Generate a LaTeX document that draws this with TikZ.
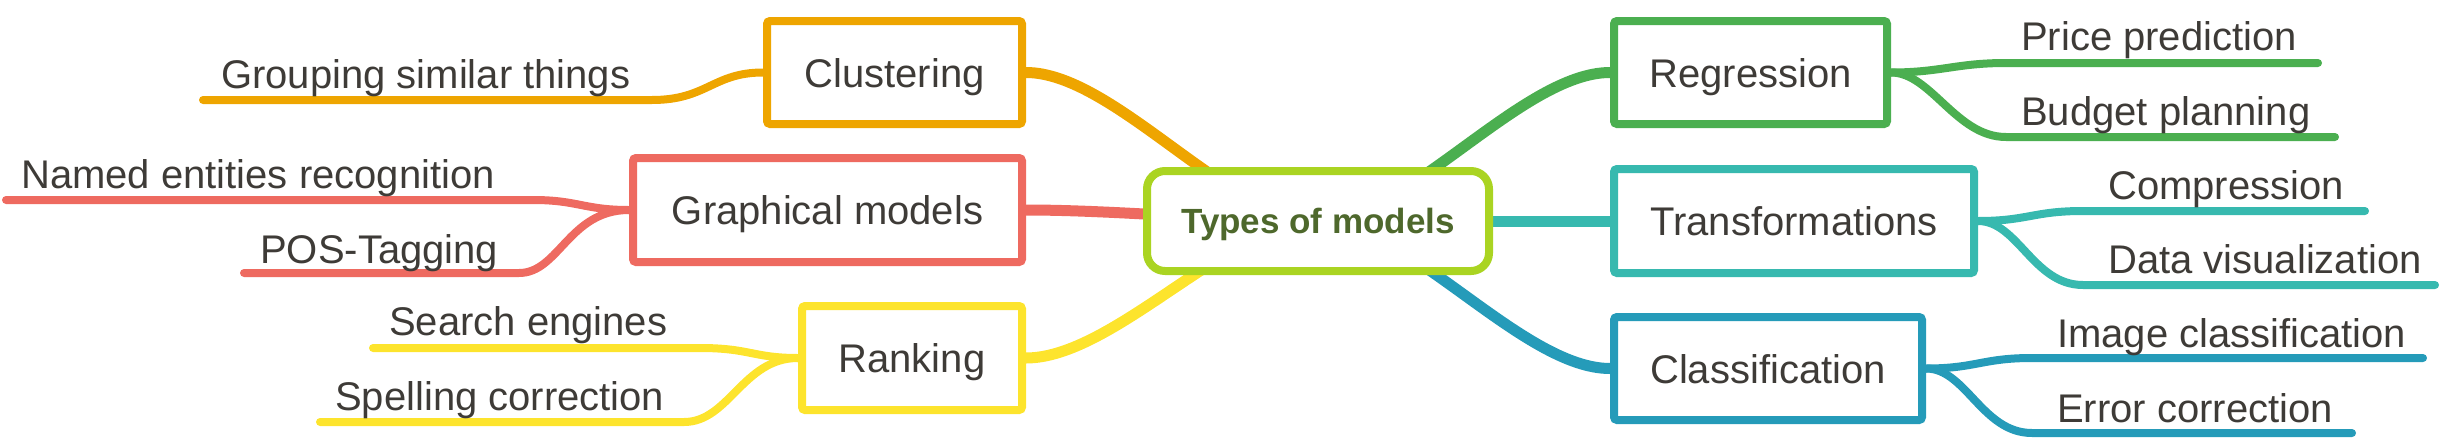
\documentclass[tikz,border=0pt]{standalone}
\usepackage{fontspec}
\setmainfont{Liberation Sans}
\usetikzlibrary{backgrounds}
\definecolor{corange}{RGB}{238,165,0}
\definecolor{cred}{RGB}{238,106,96}
\definecolor{cyellow}{RGB}{253,228,45}
\definecolor{cgreen}{RGB}{75,175,80}
\definecolor{cteal}{RGB}{55,185,175}
\definecolor{cblue}{RGB}{37,155,185}
\definecolor{clime}{RGB}{170,212,34}
\definecolor{colive}{RGB}{78,104,44}
\definecolor{txt}{RGB}{62,59,55}
\begin{document}
\begin{tikzpicture}[x=1pt,y=-1pt,
  box/.style={draw, line width=8pt, fill=white, rounded corners=3pt, inner sep=0pt,
    font=\fontsize{40}{48}\selectfont, text=txt, text height=29pt, text depth=0pt},
  centerbox/.style={draw=clime, line width=8pt, fill=white, rounded corners=18pt, inner sep=0pt,
    font=\fontsize{35}{42}\selectfont\bfseries, text=colive, text height=25pt, text depth=0pt},
  leaf/.style={font=\fontsize{40}{48}\selectfont, text=txt, inner sep=0pt, anchor=base west},
  link/.style={line width=11pt},
  sub/.style={line width=8pt, line cap=round},
]
\useasboundingbox (0,0) rectangle (2440,442);

% central node
\node[centerbox, minimum width=342pt, minimum height=100pt] (cen) at (1318,221) {Types of models};

% branch boxes
\node[box, draw=corange, minimum width=255pt, minimum height=103pt] (clu) at (894.5,72.5) {Clustering};
\node[box, draw=cred, minimum width=389pt, minimum height=104pt] (gra) at (827.5,210) {Graphical models};
\node[box, draw=cyellow, minimum width=220pt, minimum height=104pt] (rnk) at (912,358) {Ranking};
\node[box, draw=cgreen, minimum width=273pt, minimum height=103pt] (reg) at (1750.5,72.5) {Regression};
\node[box, draw=cteal, minimum width=360pt, minimum height=104pt] (tra) at (1794,221) {Transformations};
\node[box, draw=cblue, minimum width=308pt, minimum height=103pt] (cla) at (1768,368.5) {Classification};

% leaf labels
\node[leaf] (lgr) at (221,88) {Grouping similar things};
\node[leaf] (lne) at (21,188) {Named entities recognition};
\node[leaf] (lpo) at (260,263) {POS-Tagging};
\node[leaf] (lse) at (389,335) {Search engines};
\node[leaf] (lsp) at (335,410) {Spelling correction};
\node[leaf] (lpr) at (2021,50) {Price prediction};
\node[leaf] (lbu) at (2021,125) {Budget planning};
\node[leaf] (lco) at (2108,199) {Compression};
\node[leaf] (lda) at (2108,273) {Data visualization};
\node[leaf] (lim) at (2057,347) {Image classification};
\node[leaf] (ler) at (2057,422) {Error correction};

% line end coordinates
\coordinate (g0) at (203,100);   \coordinate (g1) at (652,100);
\coordinate (n0) at (6,200);     \coordinate (n1) at (533,200);
\coordinate (p0) at (244,273);   \coordinate (p1) at (519,273);
\coordinate (s0) at (373,348);   \coordinate (s1) at (700,348);
\coordinate (q0) at (320,422);   \coordinate (q1) at (684,422);
\coordinate (r0) at (2318,63);   \coordinate (r1) at (2006,63);
\coordinate (b0) at (2335,137);  \coordinate (b1) at (2006,137);
\coordinate (c0) at (2365,211);  \coordinate (c1) at (2083,211);
\coordinate (d0) at (2435,285);  \coordinate (d1) at (2083,285);
\coordinate (i0) at (2423,358);  \coordinate (i1) at (2032,358);
\coordinate (e0) at (2352,433);  \coordinate (e1) at (2032,433);

\begin{pgfonlayer}{background}
  % main links (hidden part runs under the central box)
  \draw[link, corange] (clu.east) .. controls +(88,0) and +(-88,0) .. (cen.center);
  \draw[link, cyellow] (rnk.east) .. controls +(88,0) and +(-88,0) .. (cen.center);
  \draw[link, cred] (gra.east) .. controls +(90,0) and +(-90,0) .. (cen.center);
  \draw[link, cgreen] (reg.west) .. controls +(-88,0) and +(88,0) .. (cen.center);
  \draw[link, cblue] (cla.west) .. controls +(-88,0) and +(88,0) .. (cen.center);
  \draw[link, cteal] (cen.center) -- (tra.west);
  % sub links
  \draw[sub, corange] (clu.west) .. controls +(-50,0) and +(55,0) .. (g1) -- (g0);
  \draw[sub, cred] (gra.west) .. controls +(-45,0) and +(45,0) .. (n1) -- (n0);
  \draw[sub, cred] (gra.west) .. controls +(-60,0) and +(40,0) .. (p1) -- (p0);
  \draw[sub, cyellow] (rnk.west) .. controls +(-45,0) and +(50,0) .. (s1) -- (s0);
  \draw[sub, cyellow] (rnk.west) .. controls +(-55,0) and +(45,0) .. (q1) -- (q0);
  \draw[sub, cgreen] (reg.east) .. controls +(50,0) and +(-50,0) .. (r1) -- (r0);
  \draw[sub, cgreen] (reg.east) .. controls +(40,0) and +(-50,0) .. (b1) -- (b0);
  \draw[sub, cteal] (tra.east) .. controls +(50,0) and +(-50,0) .. (c1) -- (c0);
  \draw[sub, cteal] (tra.east) .. controls +(40,0) and +(-50,0) .. (d1) -- (d0);
  \draw[sub, cblue] (cla.east) .. controls +(50,0) and +(-50,0) .. (i1) -- (i0);
  \draw[sub, cblue] (cla.east) .. controls +(40,0) and +(-50,0) .. (e1) -- (e0);
\end{pgfonlayer}
\end{tikzpicture}
\end{document}
